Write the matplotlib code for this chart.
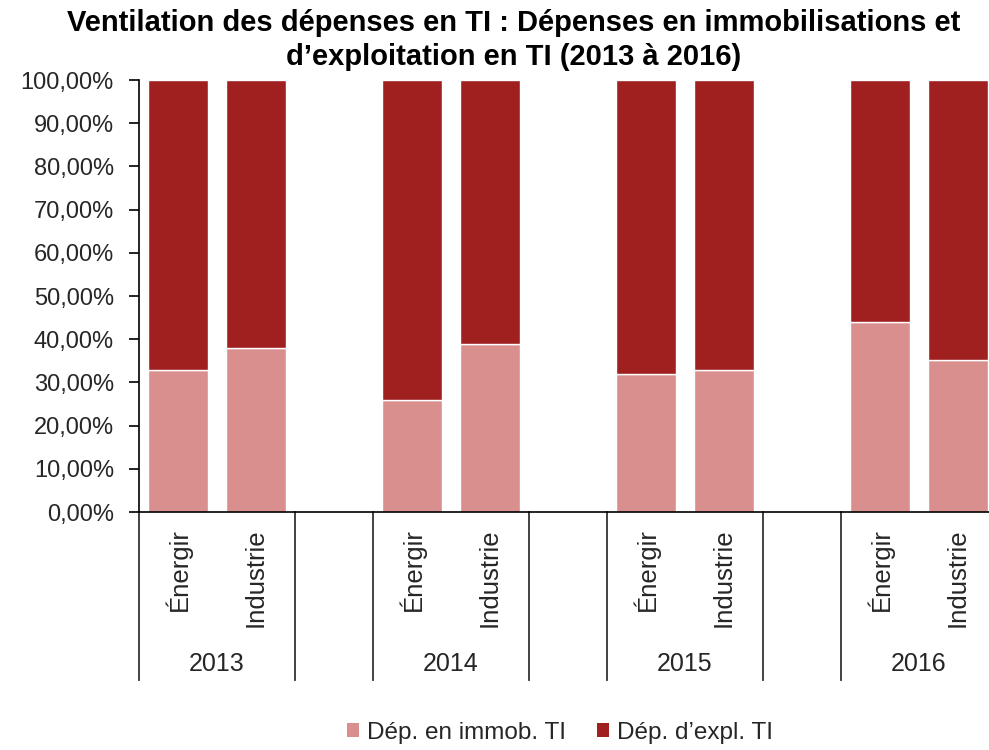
import matplotlib
matplotlib.use("Agg")
import matplotlib.pyplot as plt
import matplotlib.transforms as mtransforms
from matplotlib.ticker import FuncFormatter, MultipleLocator
from matplotlib.patches import Patch

plt.rcParams["font.family"] = ["Liberation Sans", "DejaVu Sans"]

# data
years = ["2013", "2014", "2015", "2016"]
companies = ["Énergir", "Industrie"]
immob = [32.9, 38.0, 25.9, 38.9, 31.9, 32.9, 44.0, 35.2]   # % par barre
expl = [100 - v for v in immob]
series_names = ["Dép. en immob. TI", "Dép. d\u2019expl. TI"]
title = ("Ventilation des dépenses en TI : Dépenses en immobilisations et\n"
         "d\u2019exploitation en TI (2013 à 2016)")

c_light = "#d98f8e"
c_dark = "#a02020"
txt = "#262626"

W, H = 989, 750
fig = plt.figure(figsize=(W / 100, H / 100), dpi=100)
ax_l, ax_r, ax_b, ax_t = 139, 989, 512, 80
ax = fig.add_axes([ax_l / W, 1 - ax_b / H, (ax_r - ax_l) / W, (ax_b - ax_t) / H])

slot = 78.0
pos = []
for g in range(len(years)):
    pos += [3 * g, 3 * g + 1]

bw = 0.78
ax.bar(pos, immob, width=bw, color=c_light, edgecolor="white", linewidth=1)
ax.bar(pos, expl, bottom=immob, width=bw, color=c_dark, edgecolor="white", linewidth=1)

ax.set_xlim(-0.5, -0.5 + (ax_r - ax_l) / slot)
ax.set_ylim(0, 100)
ax.yaxis.set_major_locator(MultipleLocator(10))
ax.yaxis.set_major_formatter(FuncFormatter(lambda v, p: f"{v:.2f}".replace(".", ",") + "%"))
ax.tick_params(axis="y", labelsize=17, direction="out", length=7, width=1.2,
               color="black", labelcolor=txt, pad=11)
ax.set_xticks([])
for s in ["top", "right"]:
    ax.spines[s].set_visible(False)
ax.spines["left"].set_linewidth(1.2)
ax.spines["bottom"].set_linewidth(1.2)

# multi-level category axis
trans = mtransforms.blended_transform_factory(ax.transData, ax.transAxes)
y_end = (ax_b - 680) / (ax_b - ax_t)
seps = [-0.5]
for g in range(len(years)):
    seps += [3 * g + 1.5]
    if 3 * g + 2.5 < 10.5:
        seps += [3 * g + 2.5]
for x in seps:
    ax.plot([x, x], [0, y_end], transform=trans, color="#333333", lw=1.3, clip_on=False)

y_lab = (ax_b - 528) / (ax_b - ax_t)
y_year = (ax_b - 664) / (ax_b - ax_t)
for g, yr in enumerate(years):
    for k, name in enumerate(companies):
        ax.text(3 * g + k, y_lab, name, transform=trans, rotation=90, ha="center", va="top",
                fontsize=18.5, color=txt)
    ax.text(3 * g + 0.5, y_year, yr, transform=trans, ha="center", va="center",
            fontsize=18, color=txt)

fig.text(514 / W, 1 - 40 / H, title, ha="center", va="center", fontsize=21,
         fontweight="bold", linespacing=1.25, color="black")

handles = [Patch(facecolor=c_light, edgecolor="none"), Patch(facecolor=c_dark, edgecolor="none")]
fig.legend(handles, series_names, loc="center", bbox_to_anchor=(560 / W, 1 - 733 / H),
           ncol=2, frameon=False, fontsize=17.5, handlelength=0.5, handleheight=0.5,
           handletextpad=0.3, columnspacing=1.3, labelcolor=txt)

fig.savefig("out.png", dpi=100)
